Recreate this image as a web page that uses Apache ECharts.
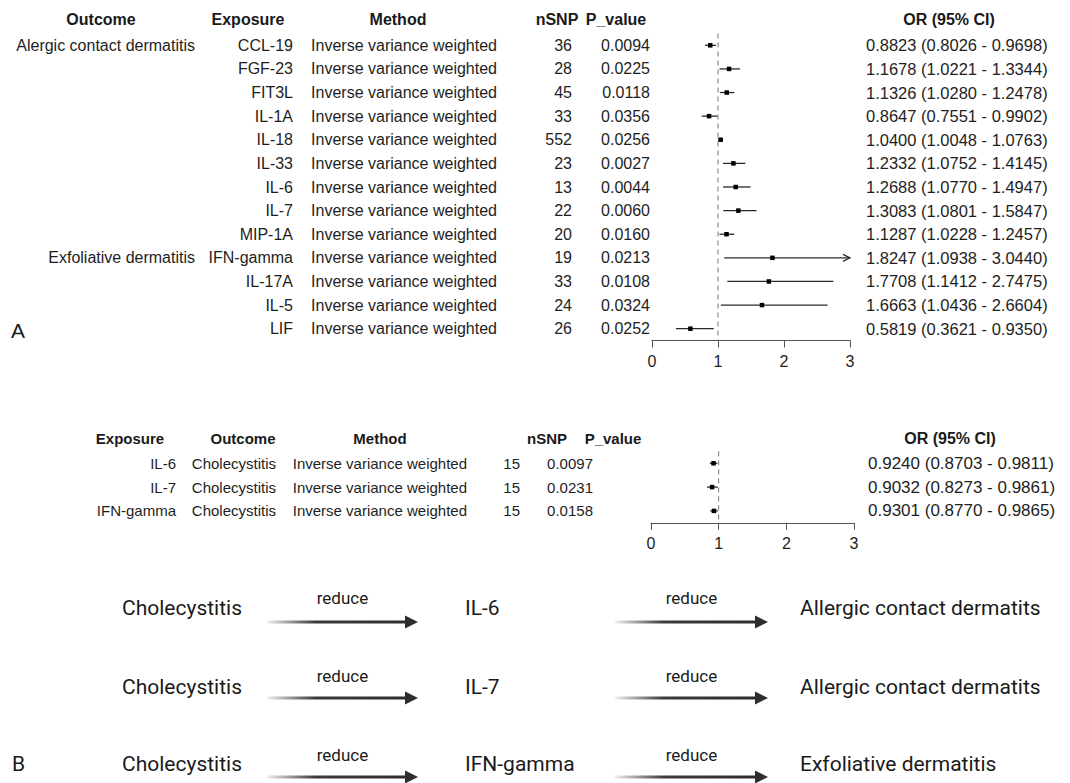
<!DOCTYPE html>
<html>
<head>
<meta charset="utf-8">
<script src="https://cdn.jsdelivr.net/npm/echarts/dist/echarts.min.js"></script>
<style>
html,body{margin:0;padding:0;background:#fff;}
#c{width:1070px;height:783px;}
</style>
</head>
<body>
<div id="c"></div>
<script>
// ---------------- DATA ----------------
// Panel A
const outcomeA  = ['Alergic contact dermatitis','','','','','','','','','Exfoliative dermatitis','','',''];
const exposureA = ['CCL-19','FGF-23','FIT3L','IL-1A','IL-18','IL-33','IL-6','IL-7','MIP-1A','IFN-gamma','IL-17A','IL-5','LIF'];
const methodA   = ['Inverse variance weighted','Inverse variance weighted','Inverse variance weighted','Inverse variance weighted','Inverse variance weighted','Inverse variance weighted','Inverse variance weighted','Inverse variance weighted','Inverse variance weighted','Inverse variance weighted','Inverse variance weighted','Inverse variance weighted','Inverse variance weighted'];
const nsnpA     = [36, 28, 45, 33, 552, 23, 13, 22, 20, 19, 33, 24, 26];
const pvalA     = ['0.0094','0.0225','0.0118','0.0356','0.0256','0.0027','0.0044','0.0060','0.0160','0.0213','0.0108','0.0324','0.0252'];
const orA       = [0.8823, 1.1678, 1.1326, 0.8647, 1.0400, 1.2332, 1.2688, 1.3083, 1.1287, 1.8247, 1.7708, 1.6663, 0.5819];
const lowA      = [0.8026, 1.0221, 1.0280, 0.7551, 1.0048, 1.0752, 1.0770, 1.0801, 1.0228, 1.0938, 1.1412, 1.0436, 0.3621];
const upA       = [0.9698, 1.3344, 1.2478, 0.9902, 1.0763, 1.4145, 1.4947, 1.5847, 1.2457, 3.0440, 2.7475, 2.6604, 0.9350];
const headersA  = ['Outcome','Exposure','Method','nSNP','P_value','OR (95% CI)'];

// Panel B
const exposureB = ['IL-6','IL-7','IFN-gamma'];
const outcomeB  = ['Cholecystitis','Cholecystitis','Cholecystitis'];
const methodB   = ['Inverse variance weighted','Inverse variance weighted','Inverse variance weighted'];
const nsnpB     = [15, 15, 15];
const pvalB     = ['0.0097','0.0231','0.0158'];
const orB       = [0.9240, 0.9032, 0.9301];
const lowB      = [0.8703, 0.8273, 0.8770];
const upB       = [0.9811, 0.9861, 0.9865];
const headersB  = ['Exposure','Outcome','Method','nSNP','P_value','OR (95% CI)'];

// Axis ticks
const xTicks = [0, 1, 2, 3];
const refLine = 1;

// Pathway diagram
const pathways = [
  ['Cholecystitis','IL-6','Allergic contact dermatits'],
  ['Cholecystitis','IL-7','Allergic contact dermatits'],
  ['Cholecystitis','IFN-gamma','Exfoliative dermatitis']
];
const relation = 'reduce';
const panelLabels = ['A','B'];

// ---------------- HELPERS ----------------
const XMIN = xTicks[0], XMAX = xTicks[xTicks.length-1], XINT = xTicks[1]-xTicks[0];
const TFONT = '"Liberation Sans", Arial, Helvetica, sans-serif';
const DFONT = 'Roboto, "Noto Sans", sans-serif';
const fmtCI = (o,l,u) => o.toFixed(4) + ' (' + l.toFixed(4) + ' - ' + u.toFixed(4) + ')';
const ciTextA = orA.map((o,i)=>fmtCI(o,lowA[i],upA[i]));
const ciTextB = orB.map((o,i)=>fmtCI(o,lowB[i],upB[i]));

function renderCI(params, api){
  const y = api.value(3);
  const hiVal = api.value(1);
  const clipped = hiVal > XMAX;
  const lo = api.coord([api.value(0), y]);
  const hi = api.coord([Math.min(hiVal, XMAX), y]);
  const pt = api.coord([api.value(2), y]);
  const s = 4.5;
  const ch = [{type:'line', shape:{x1:lo[0],y1:lo[1],x2:hi[0],y2:hi[1]}, style:{stroke:'#2a2a2a', lineWidth:1.3}}];
  if (clipped) ch.push({type:'polyline', shape:{points:[[hi[0]-7,hi[1]-3.5],[hi[0],hi[1]],[hi[0]-7,hi[1]+3.5]]}, style:{stroke:'#2a2a2a', lineWidth:1.2, fill:null}});
  ch.push({type:'rect', shape:{x:pt[0]-s/2,y:pt[1]-s/2,width:s,height:s}, style:{fill:'#000'}});
  return {type:'group', children:ch};
}

function colAxis(grid, data, offset, fs, pos){
  return {
    type:'category', gridIndex:grid, data:data, inverse:true,
    position: pos || 'left', offset: offset,
    axisLine:{show:false}, axisTick:{show:false}, splitLine:{show:false},
    axisLabel:{interval:0, margin: pos==='right' ? 16 : 0, align: pos==='right' ? 'left' : 'right',
               fontSize:fs, color:'#1e1e1e', fontFamily:TFONT}
  };
}

function plotYAxis(grid, n){
  return {type:'value', gridIndex:grid, min:-0.5, max:n-0.5, inverse:true, show:false,
          axisLine:{show:false}, axisTick:{show:false}, axisLabel:{show:false}, splitLine:{show:false}};
}

function xAx(grid){
  return {
    type:'value', gridIndex:grid, min:XMIN, max:XMAX, interval:XINT,
    axisLine:{show:true, onZero:false, lineStyle:{color:'#555', width:1}},
    axisTick:{show:true, length:7, lineStyle:{color:'#555', width:1}},
    axisLabel:{fontSize:16, color:'#1e1e1e', margin:13, fontFamily:TFONT},
    splitLine:{show:false}
  };
}

// grids
const gA = {left:652, right:220, top:33.5, height:307};
const gB = {left:651, right:216, top:451.4, height:71.4};

const yAxes = [
  plotYAxis(0, exposureA.length),              // 0
  colAxis(0, outcomeA, 652-195, 16),
  colAxis(0, exposureA, 652-293, 16),
  colAxis(0, methodA, 652-497, 16),
  colAxis(0, nsnpA, 652-572, 16),
  colAxis(0, pvalA, 652-650, 16),
  colAxis(0, ciTextA, 0, 16.5, 'right'),
  plotYAxis(1, exposureB.length),              // 7
  colAxis(1, exposureB, 651-176, 15),
  colAxis(1, outcomeB, 651-276, 15),
  colAxis(1, methodB, 651-467, 15),
  colAxis(1, nsnpB, 651-520, 15),
  colAxis(1, pvalB, 651-593, 15),
  colAxis(1, ciTextB, 0, 17, 'right')
];
yAxes[13].axisLabel.margin = 14;

function refSeries(xi, yi, n){
  return {type:'line', xAxisIndex:xi, yAxisIndex:yi, silent:true, symbol:'none', z:1,
          data:[[refLine, -0.5], [refLine, n-0.5]],
          lineStyle:{type:[5,4], color:'#777', width:1}};
}

// header graphics
const hdrA = [101, 248, 398, 557, 616, 949];
const hdrB = [130, 243, 380, 547, 613, 950];
const graphics = [];
function txt(x, y, text, font, align){
  graphics.push({type:'text', x:x, y:y, silent:true,
    style:{text:text, font:font, fill:'#1a1a1a', textAlign:align||'center', textVerticalAlign:'middle', align:align||'center', verticalAlign:'middle'}});
}
headersA.forEach((h,i)=>txt(hdrA[i], 19, h, 'bold 16px ' + TFONT));
headersB.forEach((h,i)=>txt(hdrB[i], 438, h, 'bold ' + (i === 5 ? 16 : 15) + 'px ' + TFONT));
txt(11, 330, panelLabels[0], '21px ' + TFONT, 'left');
txt(12, 764, panelLabels[1], '21px ' + DFONT, 'left');

// pathway diagram
const rowY   = [608, 687, 764];
const relY   = [598, 676, 755];
const arrY   = [622, 698, 777];
const nodeX  = [122, 465, 800];
const arrows = [[267, 418], [615, 768]];
pathways.forEach((p, r) => {
  p.forEach((t, k) => txt(nodeX[k], rowY[r], t, '21px ' + DFONT, 'left'));
  arrows.forEach(([x0, x1]) => {
    txt((x0 + x1) / 2, relY[r], relation, '17px ' + DFONT, 'center');
    graphics.push({type:'rect', silent:true,
      shape:{x:x0, y:arrY[r]-1.5, width:(x1-x0)-12, height:3},
      style:{fill:new echarts.graphic.LinearGradient(0,0,1,0,[
        {offset:0, color:'rgba(60,60,60,0.08)'},
        {offset:0.35, color:'#3a3a3a'},
        {offset:1, color:'#2e2e2e'}])}});
    graphics.push({type:'polygon', silent:true,
      shape:{points:[[x1-13, arrY[r]-6.5],[x1, arrY[r]],[x1-13, arrY[r]+6.5]]},
      style:{fill:'#2e2e2e'}});
  });
});

const chart = echarts.init(document.getElementById('c'), null, {renderer:'svg', width:1070, height:783});
chart.setOption({
  animation:false,
  backgroundColor:'#fff',
  grid:[
    Object.assign({containLabel:false, outerBoundsMode:'none'}, gA),
    Object.assign({containLabel:false, outerBoundsMode:'none'}, gB)
  ],
  xAxis:[xAx(0), xAx(1)],
  yAxis:yAxes,
  series:[
    refSeries(0, 0, exposureA.length),
    refSeries(1, 7, exposureB.length),
    {type:'custom', xAxisIndex:0, yAxisIndex:0, renderItem:renderCI, clip:false, z:3,
     dimensions:['low','up','or','row'],
     encode:{x:[0,1,2], y:3},
     data:orA.map((o,i)=>[lowA[i], upA[i], o, i])},
    {type:'custom', xAxisIndex:1, yAxisIndex:7, renderItem:renderCI, clip:false, z:3,
     dimensions:['low','up','or','row'],
     encode:{x:[0,1,2], y:3},
     data:orB.map((o,i)=>[lowB[i], upB[i], o, i])}
  ],
  graphic:{elements:graphics}
});
</script>
</body>
</html>
